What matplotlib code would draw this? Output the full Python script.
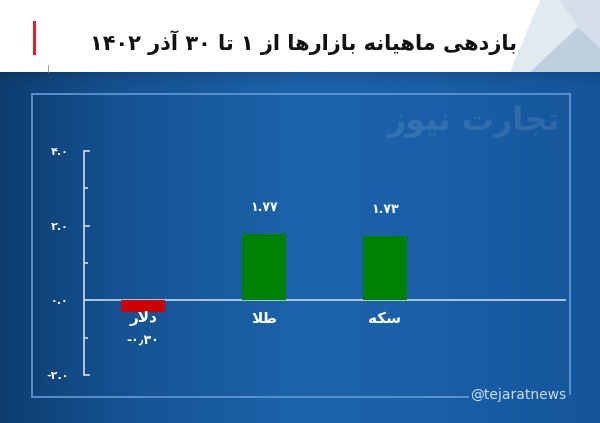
import numpy as np
import matplotlib
matplotlib.use("Agg")
import matplotlib.pyplot as plt
from matplotlib.patches import Polygon, Rectangle
from matplotlib.ticker import MultipleLocator

# data of the chart
categories = ["دلار", "طلا", "سکه"]
values = [-0.30, 1.77, 1.73]
valueLabels = ["-۰٫۳۰", "۱.۷۷", "۱.۷۳"]
barColors = ["#cc0000", "#008000", "#008000"]
yTicks = [-2.0, 0.0, 2.0, 4.0]
yTickLabels = ["-۲.۰", "۰.۰", "۲.۰", "۴.۰"]
titleText = "بازدهی ماهیانه بازارها از ۱ تا ۳۰ آذر ۱۴۰۲"
watermarkText = "تجارت نیوز"
handleText = "@tejaratnews"

# presentation forms of the letters (isolated, final, initial, medial)
FORMS = {
    'ا': ('\uFE8D', '\uFE8E'),
    'آ': ('\uFE81', '\uFE82'),
    'د': ('\uFEA9', '\uFEAA'),
    'ذ': ('\uFEAB', '\uFEAC'),
    'ر': ('\uFEAD', '\uFEAE'),
    'ز': ('\uFEAF', '\uFEB0'),
    'و': ('\uFEED', '\uFEEE'),
    'ب': ('\uFE8F', '\uFE90', '\uFE91', '\uFE92'),
    'ت': ('\uFE95', '\uFE96', '\uFE97', '\uFE98'),
    'ج': ('\uFE9D', '\uFE9E', '\uFE9F', '\uFEA0'),
    'س': ('\uFEB1', '\uFEB2', '\uFEB3', '\uFEB4'),
    'ط': ('\uFEC1', '\uFEC2', '\uFEC3', '\uFEC4'),
    'ل': ('\uFEDD', '\uFEDE', '\uFEDF', '\uFEE0'),
    'م': ('\uFEE1', '\uFEE2', '\uFEE3', '\uFEE4'),
    'ن': ('\uFEE5', '\uFEE6', '\uFEE7', '\uFEE8'),
    'ه': ('\uFEE9', '\uFEEA', '\uFEEB', '\uFEEC'),
    'ی': ('\uFBFC', '\uFBFD', '\uFBFE', '\uFBFF'),
    'ک': ('\uFB8E', '\uFB8F', '\uFB90', '\uFB91'),
}
LAM_ALEF = {'ا': ('\uFEFB', '\uFEFC'), 'آ': ('\uFEF5', '\uFEF6')}

# joins the letters of one word and turns it for left-to-right drawing
def shapeWord(word):
    out = []
    i = 0
    n = len(word)
    while i < n:
        c = word[i]
        prevJoins = i > 0 and len(FORMS.get(word[i - 1], ())) == 4
        if c == 'ل' and i + 1 < n and word[i + 1] in LAM_ALEF:
            lig = LAM_ALEF[word[i + 1]]
            out.append(lig[1] if prevJoins else lig[0])
            i += 2
            continue
        f = FORMS.get(c)
        if f is None:
            out.append(c)
            i += 1
            continue
        nextJoins = len(f) == 4 and i + 1 < n and word[i + 1] in FORMS
        if prevJoins and nextJoins:
            out.append(f[3])
        elif prevJoins:
            out.append(f[1])
        elif nextJoins:
            out.append(f[2])
        else:
            out.append(f[0])
        i += 1
    return ''.join(reversed(out))

# whole line: words go right to left, numbers stay as they are
def rtl(text):
    words = text.split(' ')
    res = []
    for w in reversed(words):
        if any(ch in FORMS for ch in w):
            res.append(shapeWord(w))
        else:
            res.append(w)
    return ' '.join(res)

W, H = 600, 423
fig = plt.figure(figsize=(W / 100, H / 100), dpi=100, facecolor='#14508f')
plt.rcParams['font.family'] = ['DejaVu Sans']

# background axes in pixel coordinates
bg = fig.add_axes([0, 0, 1, 1])
bg.axis('off')

# blue gradient under the chart
xs = np.linspace(0, W, 300)
stopsX = [0, 120, 300, 420, 600]
stopsC = np.array([[0x0d, 0x3d, 0x6e], [0x15, 0x52, 0x92], [0x1b, 0x64, 0xab],
                   [0x1a, 0x60, 0xa8], [0x15, 0x55, 0x9a]]) / 255
row = np.stack([np.interp(xs, stopsX, stopsC[:, k]) for k in range(3)], axis=1)
grad = np.repeat(row[None, :, :], 200, axis=0)
# a bit darker at the very top of the blue area
shade = np.interp(np.linspace(0, 1, 200), [0, 0.015, 0.05, 1], [0.85, 0.93, 1.0, 1.0])
grad = grad * shade[:, None, None]
bg.imshow(grad, extent=[-3, W + 3, H + 5, 71], aspect='auto', zorder=0)
# limits after imshow, it changes them
bg.set_xlim(0, W)
bg.set_ylim(H, 0)

# white header and decoration
bg.add_patch(Rectangle((0, 0), W, 72, facecolor='white', edgecolor='none', zorder=1))
bg.add_patch(Polygon([(510, 72), (540, 0), (600, 0), (600, 72)], closed=True,
                     facecolor='#e3e9f1', edgecolor='none', zorder=2))
bg.add_patch(Polygon([(530, 72), (578, 27), (600, 48), (600, 72)], closed=True,
                     facecolor='#bfcfe0', edgecolor='none', zorder=2))
bg.add_patch(Polygon([(560, 0), (600, 0), (600, 48), (578, 27)], closed=True,
                     facecolor='#d4deea', edgecolor='none', zorder=2))
bg.plot([34, 34], [22, 53], color='#d7262f', lw=2.2, zorder=3)
bg.plot([48, 48], [65, 72], color='#888888', lw=0.6, zorder=3)
bg.text(517, 43, rtl(titleText), ha='right', va='center', fontsize=15,
        fontweight='bold', color='#111111', zorder=3)

# inner frame
frameColor = '#5f95cf'
bg.plot([32, 570], [94, 94], color=frameColor, lw=1.3, zorder=2)
bg.plot([32, 32], [94, 397], color=frameColor, lw=1.3, zorder=2)
bg.plot([32, 468], [397, 397], color=frameColor, lw=1.3, zorder=2)
bg.plot([570, 570], [94, 394], color=frameColor, lw=1.3, zorder=2)

# watermark and handle
bg.text(560, 122, rtl(watermarkText), ha='right', va='center', fontsize=23,
        fontweight='bold', color='white', alpha=0.11, zorder=2)
bg.text(518, 395, handleText, ha='center', va='center', fontsize=10,
        color='#c9dcf0', zorder=2)

# main chart axes
ax = fig.add_axes([84 / W, (H - 375) / H, (566 - 84) / W, 224 / H])
ax.patch.set_alpha(0)
ax.set_xlim(-0.49, 3.5)
ax.set_ylim(-2, 4)
xPos = np.arange(len(categories))
ax.bar(xPos, values, width=0.36, color=barColors, zorder=3)
ax.axhline(0, color='#b7cde6', lw=1.3, zorder=2)

for s in ['top', 'right', 'bottom']:
    ax.spines[s].set_visible(False)
ax.spines['left'].set_color('#c8d9ec')
ax.spines['left'].set_linewidth(1.2)
ax.set_yticks(yTicks)
ax.set_yticklabels(yTickLabels)
ax.yaxis.set_minor_locator(MultipleLocator(1))
ax.tick_params(axis='y', which='both', direction='in', colors='#c8d9ec',
               labelcolor='white', pad=11, width=1.2)
ax.tick_params(axis='y', which='major', length=4, labelsize=8)
ax.tick_params(axis='y', which='minor', length=3)
for lbl in ax.get_yticklabels():
    lbl.set_fontweight('bold')
ax.set_xticks([])

# labels of bars
for x, v, lab, cat in zip(xPos, values, valueLabels, categories):
    ax.annotate(rtl(cat), (x, 0), xytext=(0, -13), textcoords='offset points',
                ha='center', va='center', fontsize=11, fontweight='bold', color='white')
    if v >= 0:
        ax.annotate(lab, (x, v), xytext=(0, 19), textcoords='offset points',
                    ha='center', va='center', fontsize=9, fontweight='bold', color='white')
    else:
        ax.annotate(lab, (x, 0), xytext=(0, -29), textcoords='offset points',
                    ha='center', va='center', fontsize=9, fontweight='bold', color='white')

fig.savefig('out.png', dpi=100, facecolor=fig.get_facecolor())
